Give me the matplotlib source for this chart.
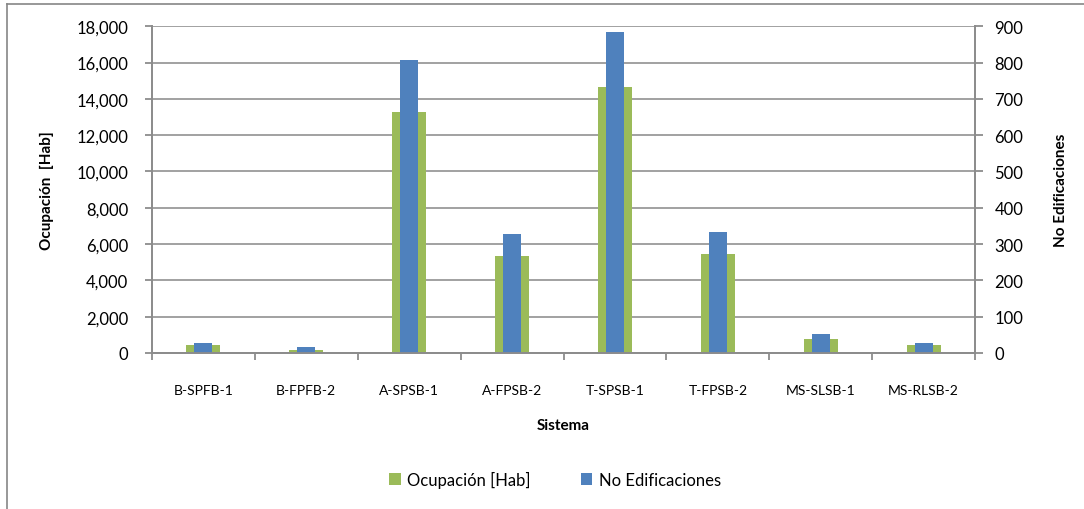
import matplotlib
matplotlib.use("Agg")
import matplotlib.pyplot as plt
from matplotlib.lines import Line2D
from matplotlib.ticker import FuncFormatter, FixedLocator
import numpy as np

plt.rcParams['font.family'] = ['Lato', 'DejaVu Sans']

# Data
sistemas = ['B-SPFB-1', 'B-FPFB-2', 'A-SPSB-1', 'A-FPSB-2',
            'T-SPSB-1', 'T-FPSB-2', 'MS-SLSB-1', 'MS-RLSB-2']
ocupacion = [460, 180, 13280, 5340, 14650, 5450, 790, 460]
edificaciones = [28, 17, 807, 328, 884, 333, 53, 28]

GREEN = '#9BBB59'
BLUE = '#4F81BD'
AXIS_GREY = '#8C8C8C'
GRID_GREY = '#9A9A9A'

fig = plt.figure(figsize=(10.84, 5.10), dpi=100)
ax = fig.add_axes([0.1402, 0.3059, 0.7593, 0.6406])
ax2 = ax.twinx()

x = np.arange(len(sistemas))
ax.bar(x, ocupacion, width=0.33, color=GREEN, zorder=2, label='Ocupación [Hab]')
ax2.bar(x, edificaciones, width=0.175, color=BLUE, zorder=2, label='No Edificaciones')

ax.set_xlim(-0.5, len(sistemas) - 0.5)
ax.set_ylim(0, 18000)
ax2.set_ylim(0, 900)
ax.set_yticks(np.arange(0, 18001, 2000))
ax2.set_yticks(np.arange(0, 901, 100))
ax.yaxis.set_major_formatter(FuncFormatter(lambda v, p: f'{int(v):,}'))

ax.grid(axis='y', color=GRID_GREY, linewidth=1.3, zorder=0)
ax.set_axisbelow(True)

# category labels without ticks, tick marks on category boundaries
ax.set_xticks(x)
ax.set_xticklabels(sistemas, fontsize=10)
ax.tick_params(axis='x', which='major', length=0, pad=22)
ax.xaxis.set_minor_locator(FixedLocator(np.arange(-0.5, len(sistemas), 1.0)))
ax.tick_params(axis='x', which='minor', length=5, width=1.3, color=AXIS_GREY)

ax.tick_params(axis='y', length=5, width=1.3, color=AXIS_GREY, pad=12, labelsize=12)
ax2.tick_params(axis='y', length=6, width=1.3, color=AXIS_GREY, pad=8, labelsize=12)

for a in (ax, ax2):
    a.spines['top'].set_visible(False)
    for s in ('left', 'right', 'bottom'):
        a.spines[s].set_color(AXIS_GREY)
        a.spines[s].set_linewidth(1.3)

ax.set_xlabel('Sistema', fontsize=11, fontweight='bold', labelpad=16)
ax.set_ylabel('Ocupación  [Hab]', fontsize=11, fontweight='bold', labelpad=16)
ax2.set_ylabel('No Edificaciones', fontsize=11, fontweight='bold', labelpad=22)

h1, l1 = ax.get_legend_handles_labels()
h2, l2 = ax2.get_legend_handles_labels()
fig.legend(h1 + h2, l1 + l2, loc='center', bbox_to_anchor=(0.512, 0.058),
           ncol=2, frameon=False, fontsize=12, handlelength=0.7,
           handleheight=0.7, handletextpad=0.4, columnspacing=3.0)

# outer chart border (left and top edges)
bx = 6.5 / 1084
by = 1 - 4.5 / 510
fig.add_artist(Line2D([bx, bx], [0, by], transform=fig.transFigure,
                      color='#868686', linewidth=1.2))
fig.add_artist(Line2D([bx, 1], [by, by], transform=fig.transFigure,
                      color='#868686', linewidth=1.2))

fig.savefig('out.png', dpi=100)
